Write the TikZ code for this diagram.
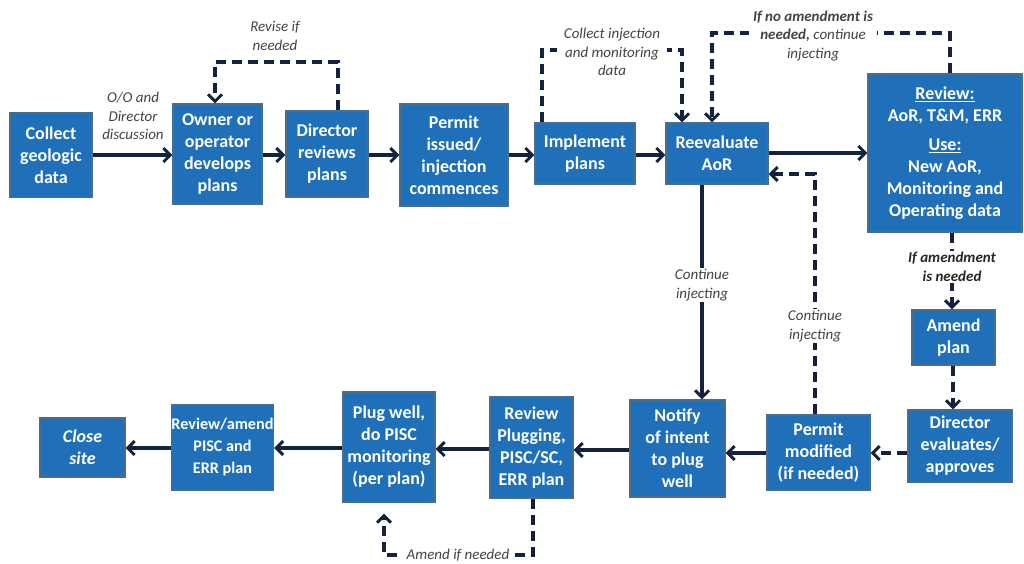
\documentclass[tikz,border=0pt]{standalone}
\usepackage{fontspec}
\setmainfont{Carlito}
\usetikzlibrary{arrows.meta}
\definecolor{boxblue}{HTML}{1F70B8}
\definecolor{boxedge}{HTML}{4C6C8C}
\definecolor{navy}{HTML}{13233D}
\definecolor{labgrey}{HTML}{444444}
\tikzset{
 box/.style={draw=boxedge, line width=1.3pt, fill=boxblue, text=white, font=\fontsize{18}{22}\selectfont\bfseries, align=center, inner sep=0pt},
 flow/.style={draw=navy, line width=3.2pt, -{Straight Barb[length=7pt,width=14pt,line width=2.9pt]}},
 dflow/.style={flow, dash pattern=on 10.5pt off 5.5pt},
 lab/.style={text=labgrey, font=\fontsize{15}{18.5}\selectfont\itshape, align=center, inner sep=1pt},
 blab/.style={lab, text=black!85, font=\fontsize{15}{18.5}\selectfont\bfseries\itshape},
}
\begin{document}
\begin{tikzpicture}[x=1pt,y=-1pt]
\useasboundingbox[fill=white] (0,0) rectangle (1024,563);
% boxes
\node[box, minimum width=82, minimum height=85] (c1) at (51,155) {Collect\\geologic\\data};
\node[box, minimum width=89, minimum height=100] (c2) at (217.5,154) {Owner or\\operator\\develops\\plans};
\node[box, minimum width=82, minimum height=86] (c3) at (327,154) {Director\\reviews\\plans};
\node[box, minimum width=108, minimum height=102] (c4) at (454,155) {Permit\\issued/\\injection\\commences};
\node[box, minimum width=100, minimum height=61] (c5) at (585,153.5) {Implement\\plans};
\node[box, minimum width=102, minimum height=61] (c6) at (717,153.5) {Reevaluate\\AoR};
\node[box, minimum width=154, minimum height=158] (c7) at (945,153) {\underline{Review:}\\AoR, T\&M, ERR\\[7pt]\underline{Use:}\\New AoR,\\Monitoring and\\Operating data};
\node[box, minimum width=83, minimum height=55] (c8) at (953.5,337.5) {Amend\\plan};
\node[box, minimum width=104, minimum height=72] (c9) at (960,446) {Director\\evaluates/\\approves};
\node[box, minimum width=103, minimum height=75] (c10) at (818.5,452.5) {Permit\\modified\\(if needed)};
\node[box, minimum width=95, minimum height=97] (c11) at (677.5,448.5) {Notify\\of intent\\to plug\\well};
\node[box, minimum width=83, minimum height=101] (c12) at (531.5,447.5) {Review\\Plugging,\\PISC/SC,\\ERR plan};
\node[box, minimum width=92, minimum height=110] (c13) at (389,447) {Plug well,\\do PISC\\monitoring\\(per plan)};
\node[box, minimum width=99, minimum height=85, font=\fontsize{16.2}{22}\selectfont\bfseries] (c14) at (222.5,447.5) {Review/amend\\PISC and\\ERR plan};
\node[box, minimum width=85, minimum height=59, font=\fontsize{18}{22}\selectfont\bfseries\itshape] (c15) at (82.5,447.5) {Close\\site};
% top row solid flow
\draw[flow] (c1.east) -- (c1.east -| c2.west);
\node[lab] (l1) at (133,116) {O/O and\\Director\\discussion};
\draw[flow] (c2.east |- 0,155) -- (c3.west |- 0,155);
\draw[flow] (c3.east |- 0,155) -- (c4.west |- 0,155);
\draw[flow] (c4.east |- 0,155) -- (c5.west |- 0,155);
\draw[flow] (c5.east |- 0,155) -- (c6.west |- 0,155);
\draw[flow] (c6.east |- 0,153) -- (c7.west |- 0,153);
% revise loop
\draw[dflow] (c3.north -| 338,0) -- (338,62) -| (c2.north -| 215,0);
\node[lab] (l2) at (275,36) {Revise if\\needed};
% collect data loop
\draw[dflow] (c5.north -| 542,0) -- (542,50) -| (c6.north -| 682,0);
\node[lab, fill=white, inner xsep=7pt] (l3) at (612,52) {Collect injection\\and monitoring\\data};
% no amendment loop
\draw[dflow] (c7.north -| 950,0) -- (950,33) -| (c6.north -| 712,0);
\node[lab, fill=white, inner xsep=4pt] (l4) at (813,36) {\textbf{If no amendment is}\\\textbf{needed,} continue\\injecting};
% amendment path
\draw[dflow] (c7.south -| 952,0) -- (c8.north -| 952,0);
\node[blab, fill=white] (l5) at (952,267) {If amendment\\is needed};
\draw[dflow] (c8.south -| 953,0) -- (c9.north -| 953,0);
\draw[dflow] (c9.west |- 0,453) -- (c10.east |- 0,453);
\draw[flow] (c10.west |- 0,453) -- (c11.east |- 0,453);
\draw[dflow] (c10.north -| 815,0) -- (815,174) -- (c6.east |- 0,174);
\node[lab, fill=white] (l6) at (815,326) {Continue\\injecting};
\draw[flow] (c6.south -| 702,0) -- (c11.north -| 702,0);
\node[lab, fill=white] (l7) at (702,285) {Continue\\injecting};
% bottom row
\draw[flow] (c11.west |- 0,450) -- (c12.east |- 0,450);
\draw[flow] (c12.west |- 0,449) -- (c13.east |- 0,449);
\draw[flow] (c13.west |- 0,448) -- (c14.east |- 0,448);
\draw[flow] (c14.west |- 0,448) -- (c15.east |- 0,448);
\draw[dflow, shorten >=11pt] (c12.south -| 533,0) -- (533,555) -| (c13.south -| 384,0);
\node[lab, fill=white, inner xsep=4pt] (l8) at (458,555) {Amend if needed};
\end{tikzpicture}
\end{document}
